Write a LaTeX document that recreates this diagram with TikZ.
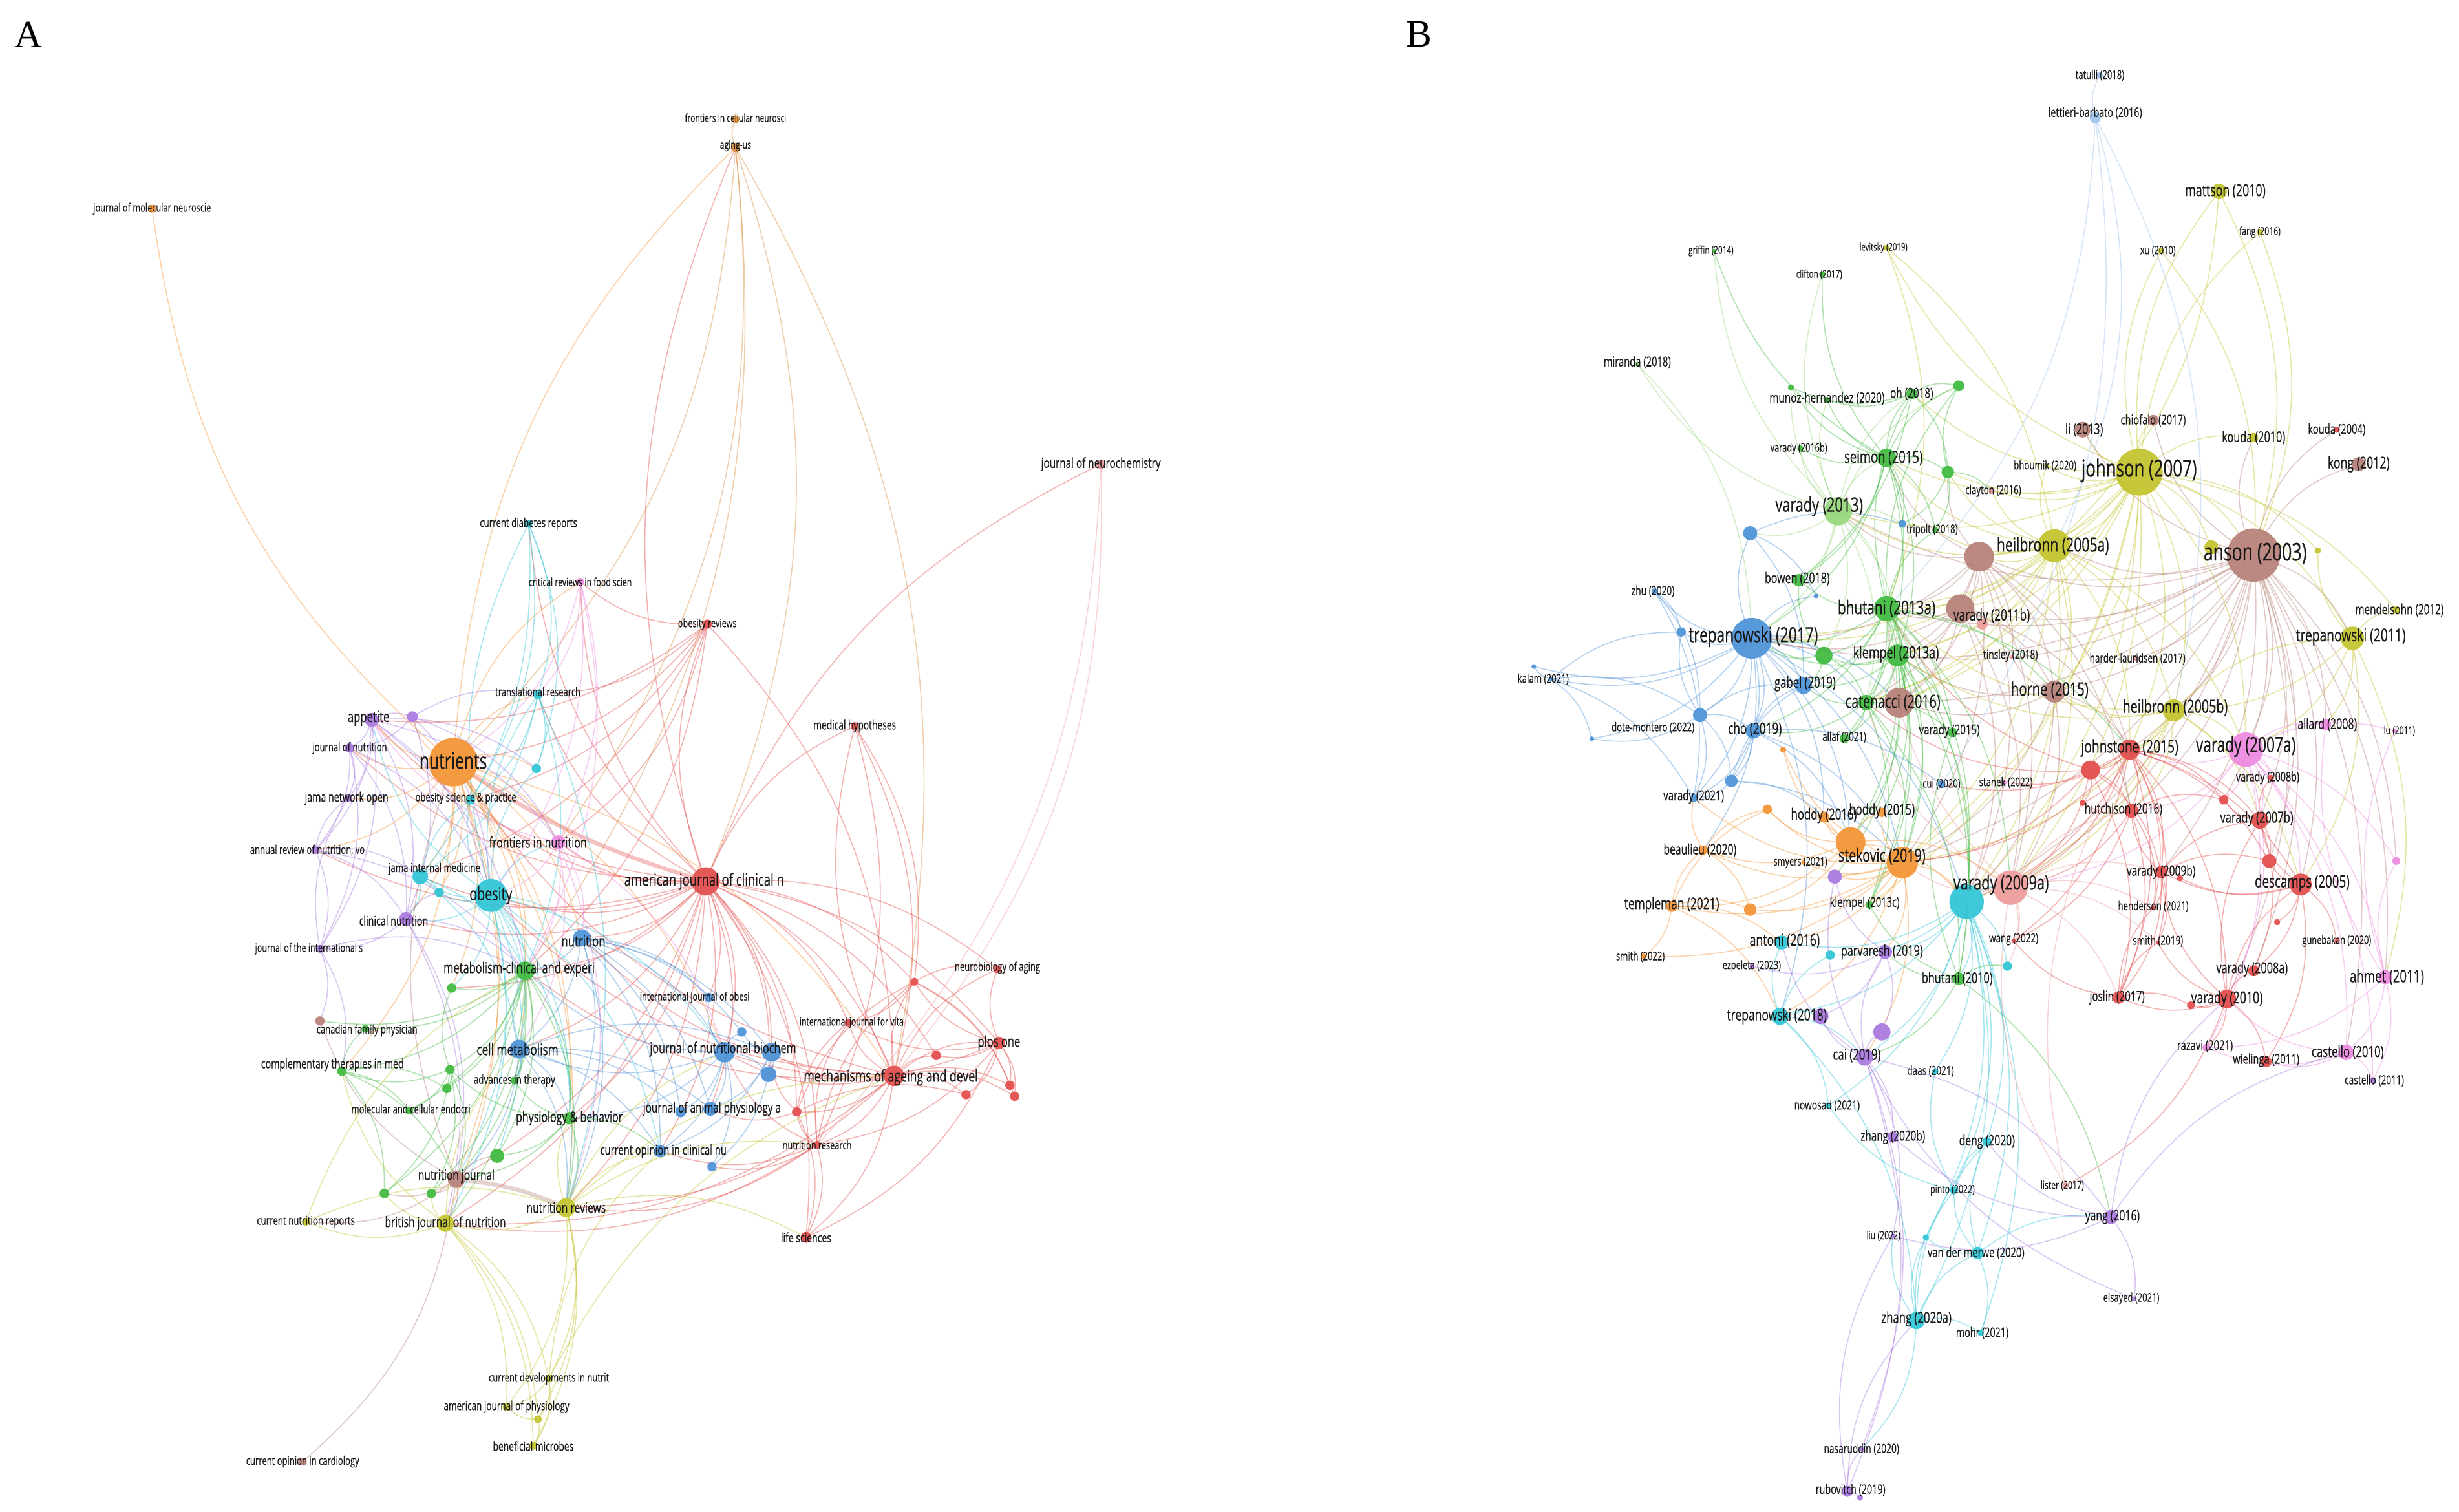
\documentclass[tikz,border=0pt]{standalone}
\usepackage{fontspec}
\setmainfont{Open Sans}[FakeStretch=0.7,FakeBold=0.35]
\newfontfamily\panelfont{Liberation Serif}
\pgfdeclarelayer{bg}
\pgfsetlayers{bg,main}
\definecolor{vred}{HTML}{E24A4A}
\definecolor{vgreen}{HTML}{3DB83D}
\definecolor{vblue}{HTML}{4A90D6}
\definecolor{volive}{HTML}{C2C22A}
\definecolor{vpurple}{HTML}{A877E0}
\definecolor{vcyan}{HTML}{2EC4D6}
\definecolor{vorange}{HTML}{F39231}
\definecolor{vdorange}{HTML}{D98A3A}
\definecolor{vbrown}{HTML}{B57F76}
\definecolor{vpink}{HTML}{EE88E0}
\definecolor{vsalmon}{HTML}{EE9A9A}
\definecolor{vlgreen}{HTML}{96D67A}
\definecolor{vlblue}{HTML}{9CC2EC}
\tikzset{
  vc/.style={circle,inner sep=0pt,outer sep=0pt,draw=none,fill opacity=0.92},
  vl/.style={inner sep=0pt,text=black!90},
  ed/.style={draw=#1,line width=0.45pt,draw opacity=0.42},
  edt/.style={draw=#1,line width=1.8pt,draw opacity=0.35},
  panel/.style={inner sep=0pt,font=\panelfont\fontsize{17}{17}\selectfont}
}
\newcommand\vnd[5]{\node[vc,fill=#5,minimum size=#4*0.02426cm] (#1) at (#2,#3) {};}
\newcommand\vlb[5]{\node[vl] (#1-t) at (#2,#3) {\fontsize{#4pt}{#4pt}\selectfont #5};}
\newcommand\hub[3]{\foreach \tg in {#3}{\draw[ed=#2] (#1) to[bend left=20] (\tg);}}
\begin{document}
\begin{tikzpicture}[x=0.02426cm,y=-0.02426cm]
\useasboundingbox (0,0) rectangle (1568,964);
\node[panel] (pA) at (18,22) {A};
\node[panel] (pB) at (905,22) {B};
% ---------------- Panel A nodes
\vnd{fcn}{469}{76}{5}{vdorange}
\vnd{agus}{469}{94}{6}{vdorange}
\vnd{jmn}{97}{133}{5}{vorange}
\vnd{jnc}{702}{296}{6}{vsalmon}
\vnd{cdr}{337}{334}{5}{vcyan}
\vnd{crf}{370}{371}{5}{vpink}
\vnd{obr}{451}{398}{6}{vred}
\vnd{trr}{343}{443}{6}{vcyan}
\vnd{mhy}{545}{463}{5}{vred}
\vnd{app}{237}{459}{9}{vpurple}
\vnd{apu1}{263}{457}{7}{vpurple}
\vnd{jnu}{223}{477}{6}{vpurple}
\vnd{nut}{289}{486}{31}{vorange}
\vnd{acy1}{342}{490}{6}{vcyan}
\vnd{jno}{222}{509}{5}{vpurple}
\vnd{osp}{300}{510}{6}{vcyan}
\vnd{fin}{356}{537}{9}{vpink}
\vnd{arn}{201}{542}{5}{vpurple}
\vnd{jim}{268}{559}{10}{vcyan}
\vnd{acy2}{280}{569}{6}{vcyan}
\vnd{obe}{313}{571}{21}{vcyan}
\vnd{ajc}{450}{562}{18}{vred}
\vnd{cln}{259}{586}{9}{vpurple}
\vnd{jis}{204}{605}{5}{vpurple}
\vnd{ntr}{371}{598}{11}{vblue}
\vnd{met}{335}{619}{12}{vgreen}
\vnd{ijo}{452}{636}{6}{vblue}
\vnd{agr1}{288}{630}{6}{vgreen}
\vnd{nba}{636}{618}{5}{vred}
\vnd{ard1}{583}{626}{5}{vred}
\vnd{ijv}{541}{652}{5}{vred}
\vnd{cfp}{204}{651}{6}{vbrown}
\vnd{agr2}{233}{656}{5}{vgreen}
\vnd{clm}{331}{669}{12}{vblue}
\vnd{abl1}{473}{658}{6}{vblue}
\vnd{jnb}{462}{671}{13}{vblue}
\vnd{abl2}{492}{671}{12}{vblue}
\vnd{abl3}{490}{685}{10}{vblue}
\vnd{plo}{637}{665}{8}{vred}
\vnd{ard2}{597}{673}{6}{vred}
\vnd{mad}{570}{686}{13}{vred}
\vnd{ard3}{644}{692}{6}{vred}
\vnd{ard4}{647}{699}{6}{vred}
\vnd{ard5}{616}{698}{6}{vred}
\vnd{ctm}{218}{683}{6}{vgreen}
\vnd{agr3}{287}{682}{6}{vgreen}
\vnd{agr4}{285}{694}{6}{vgreen}
\vnd{adt}{328}{689}{5}{vgreen}
\vnd{mce}{261}{708}{5}{vgreen}
\vnd{phb}{363}{713}{8}{vgreen}
\vnd{jap}{453}{707}{9}{vblue}
\vnd{abl4}{434}{709}{7}{vblue}
\vnd{ard6}{508}{709}{6}{vred}
\vnd{coc}{421}{734}{8}{vblue}
\vnd{abl5}{454}{744}{6}{vblue}
\vnd{nre}{521}{730}{5}{vred}
\vnd{lsc}{514}{789}{7}{vred}
\vnd{agr5}{317}{737}{9}{vgreen}
\vnd{njo}{291}{752}{11}{vbrown}
\vnd{agr6}{245}{761}{6}{vgreen}
\vnd{agr7}{275}{761}{6}{vgreen}
\vnd{nrv}{361}{770}{12}{volive}
\vnd{bjn}{284}{780}{11}{volive}
\vnd{cnr}{195}{779}{5}{volive}
\vnd{cdn}{350}{879}{5}{volive}
\vnd{ajp}{323}{897}{5}{volive}
\vnd{ayl1}{343}{905}{5}{volive}
\vnd{bmi}{340}{922}{5}{volive}
\vnd{coca}{193}{932}{5}{vbrown}
% ---------------- Panel B nodes
\vnd{tat}{1339}{48}{4}{vlblue}
\vnd{lb}{1336}{75}{7}{vlblue}
\vnd{mat}{1415}{122}{10}{volive}
\vnd{fan}{1441}{148}{4}{volive}
\vnd{gri}{1093}{160}{3}{vgreen}
\vnd{lev}{1203}{158}{4}{volive}
\vnd{xu}{1378}{160}{4}{volive}
\vnd{cli}{1162}{175}{4}{vgreen}
\vnd{mir}{1044}{232}{3}{vlgreen}
\vnd{gm1}{1142}{247}{4}{vgreen}
\vnd{mun}{1165}{255}{4}{vgreen}
\vnd{oh}{1219}{251}{7}{vgreen}
\vnd{gm2}{1249}{246}{7}{vgreen}
\vnd{li}{1328}{274}{10}{vbrown}
\vnd{chi}{1373}{268}{7}{vbrown}
\vnd{kou10}{1437}{279}{6}{volive}
\vnd{kou04}{1490}{274}{4}{vred}
\vnd{kon}{1504}{296}{9}{vbrown}
\vnd{joh}{1364}{301}{30}{volive}
\vnd{bho}{1305}{297}{3}{volive}
\vnd{cla}{1270}{313}{4}{vsalmon}
\vnd{sei}{1203}{292}{12}{vgreen}
\vnd{v16b}{1148}{286}{4}{vgreen}
\vnd{gm3}{1242}{301}{8}{vgreen}
\vnd{v13}{1172}{326}{18}{vlgreen}
\vnd{bl1}{1116}{340}{9}{vblue}
\vnd{bl2}{1213}{334}{5}{vblue}
\vnd{tri}{1234}{338}{4}{vgreen}
\vnd{br1}{1262}{355}{19}{vbrown}
\vnd{he5a}{1310}{348}{21}{volive}
\vnd{ol1}{1410}{349}{9}{volive}
\vnd{ans}{1437}{354}{34}{vbrown}
\vnd{yl1}{1478}{351}{4}{volive}
\vnd{men}{1528}{389}{5}{volive}
\vnd{tr11}{1500}{407}{15}{volive}
\vnd{zhu}{1055}{377}{4}{vblue}
\vnd{bow}{1147}{370}{8}{vgreen}
\vnd{bl3}{1158}{380}{3}{vblue}
\vnd{bh13a}{1203}{388}{16}{vgreen}
\vnd{br2}{1250}{388}{18}{vbrown}
\vnd{v11b}{1264}{398}{7}{vsalmon}
\vnd{bl4}{1072}{403}{6}{vblue}
\vnd{tr17}{1117}{407}{26}{vblue}
\vnd{gm4}{1163}{418}{11}{vgreen}
\vnd{kl13a}{1210}{418}{14}{vgreen}
\vnd{tin}{1283}{419}{3}{vsalmon}
\vnd{hl17}{1362}{420}{3}{vsalmon}
\vnd{bl5}{978}{425}{3}{vblue}
\vnd{kal}{989}{433}{3}{vblue}
\vnd{gab}{1150}{437}{11}{vblue}
\vnd{cat}{1190}{448}{10}{vgreen}
\vnd{br3}{1211}{448}{19}{vbrown}
\vnd{hor}{1310}{441}{14}{vbrown}
\vnd{he5b}{1386}{453}{14}{volive}
\vnd{bl6}{1084}{456}{9}{vblue}
\vnd{dm}{1015}{471}{3}{vblue}
\vnd{cho}{1118}{466}{10}{vblue}
\vnd{alf}{1176}{471}{6}{vgreen}
\vnd{v15}{1245}{467}{6}{vgreen}
\vnd{alr}{1483}{462}{7}{vpink}
\vnd{lu}{1527}{466}{3}{vpink}
\vnd{v07a}{1432}{478}{22}{vpink}
\vnd{jst}{1358}{478}{13}{vred}
\vnd{rd1}{1333}{491}{12}{vred}
\vnd{or2}{1137}{478}{4}{vorange}
\vnd{bl7}{1104}{498}{8}{vblue}
\vnd{cui}{1238}{500}{5}{vblue}
\vnd{sta}{1278}{499}{3}{vpink}
\vnd{v08b}{1448}{496}{4}{vred}
\vnd{v21}{1080}{509}{5}{vblue}
\vnd{rd3}{1418}{510}{6}{vred}
\vnd{rd2}{1328}{512}{4}{vred}
\vnd{or1}{1127}{516}{6}{vorange}
\vnd{hd15}{1200}{518}{6}{vorange}
\vnd{hut}{1359}{517}{9}{vred}
\vnd{hd16}{1163}{521}{7}{vorange}
\vnd{v07b}{1441}{523}{11}{vred}
\vnd{or3}{1180}{537}{19}{vorange}
\vnd{bea}{1086}{542}{6}{vorange}
\vnd{stk}{1213}{550}{20}{vorange}
\vnd{pk1}{1528}{549}{5}{vpink}
\vnd{rd4}{1447}{549}{9}{vred}
\vnd{smy}{1150}{550}{3}{vorange}
\vnd{v09b}{1378}{556}{8}{vred}
\vnd{pu1}{1170}{559}{9}{vpurple}
\vnd{rd5}{1390}{560}{4}{vred}
\vnd{des}{1467}{564}{14}{vred}
\vnd{v09a}{1282}{566}{22}{vsalmon}
\vnd{cy1}{1254}{575}{22}{vcyan}
\vnd{tem}{1066}{578}{7}{vorange}
\vnd{kl13c}{1192}{577}{5}{vgreen}
\vnd{or4}{1116}{580}{8}{vorange}
\vnd{hen}{1373}{579}{3}{vred}
\vnd{rd6}{1452}{588}{4}{vred}
\vnd{wan}{1284}{600}{3}{vred}
\vnd{smi19}{1376}{601}{3}{vred}
\vnd{gun}{1490}{600}{3}{vred}
\vnd{ant}{1136}{601}{9}{vcyan}
\vnd{par}{1202}{607}{9}{vpurple}
\vnd{cy2}{1167}{609}{6}{vcyan}
\vnd{smi22}{1048}{610}{4}{vorange}
\vnd{cy3}{1280}{616}{6}{vcyan}
\vnd{ezp}{1117}{616}{3}{vpurple}
\vnd{v08a}{1437}{619}{7}{vred}
\vnd{bh10}{1249}{624}{8}{vgreen}
\vnd{ahm}{1521}{623}{9}{vpink}
\vnd{jos}{1351}{636}{8}{vred}
\vnd{v10}{1420}{637}{12}{vred}
\vnd{rd7}{1397}{641}{5}{vred}
\vnd{tr18}{1135}{648}{11}{vcyan}
\vnd{pu2}{1161}{648}{10}{vpurple}
\vnd{pu3}{1200}{658}{11}{vpurple}
\vnd{raz}{1407}{668}{5}{vpink}
\vnd{cas10}{1496}{671}{10}{vpink}
\vnd{cai}{1189}{674}{11}{vpurple}
\vnd{wie}{1445}{677}{7}{vred}
\vnd{daa}{1234}{683}{4}{vcyan}
\vnd{cas11}{1513}{689}{4}{vpurple}
\vnd{now}{1166}{705}{4}{vcyan}
\vnd{zh20b}{1207}{725}{7}{vpurple}
\vnd{den}{1267}{728}{6}{vcyan}
\vnd{lis}{1317}{756}{4}{vsalmon}
\vnd{pin}{1246}{759}{5}{vcyan}
\vnd{yan}{1346}{776}{9}{vpurple}
\vnd{liu}{1207}{788}{3}{vpurple}
\vnd{cy4}{1228}{789}{4}{vcyan}
\vnd{vdm}{1261}{799}{8}{vcyan}
\vnd{els}{1361}{828}{3}{vpurple}
\vnd{zh20a}{1222}{842}{11}{vcyan}
\vnd{moh}{1263}{850}{4}{vcyan}
\vnd{nas}{1187}{924}{3}{vpurple}
\vnd{rub}{1178}{951}{7}{vpurple}
\vnd{pu4}{1186}{955}{4}{vpurple}
% ---------------- edges
\begin{pgfonlayer}{bg}
% Panel A
\draw[edt=vred] (ajc) to[bend left=8] (nut);
\draw[edt=vbrown] (njo) to[bend left=8] (nrv);
\hub{ajc}{vred}{obr,mhy,plo,mad,nre,lsc,ijv,ard1,ard2,nba,obe,met,ntr,clm,jnb,abl2,jap,bjn,nrv,njo,fin,cln,app,jnu,arn,trr,crf,cdr,agus,osp,coc,ard6,ijo,jim,agr1,phb,jnc,abl3}
\hub{obr}{vred}{nut,crf,fin,trr,met,app,mad,jim,osp}
\hub{mad}{vred}{plo,ard2,ard3,ard4,ard5,ard1,nba,ijv,nre,ard6,lsc,jnb,abl2,ntr,met,nrv,nut,mhy,obe,bjn}
\hub{plo}{vred}{ard1,ard3,ard4,ard5,nba,nre,jnb,lsc,ijv,ard2}
\hub{nre}{vred}{lsc,ard6,jnb,coc,ijv,ard1,nrv,bjn,abl5}
\hub{ard6}{vred}{lsc,jap,abl2,ard1,ijv,ard5}
\hub{ard1}{vred}{nba,ijv,ard3,ard4}
\hub{jnc}{vsalmon}{mad,nre}
\hub{mhy}{vred}{nre,mad,ard1}
\hub{nut}{vorange}{jmn,agus,app,apu1,jnu,jno,obe,fin,osp,jim,acy1,met,clm,njo,bjn,nrv,cln,arn,mad,ntr,trr,crf,jnb,agr1,phb,ctm,acy2}
\hub{agus}{vdorange}{fcn,nut,mad,met,ajc,fin}
\hub{obe}{vcyan}{jim,acy2,osp,acy1,trr,cdr,met,ntr,clm,njo,bjn,phb,app,cln,fin,agr1,agr5,jnb,coc,nrv}
\hub{cdr}{vcyan}{trr,jim,acy1,osp}
\hub{trr}{vcyan}{acy1,osp,jim,met,nrv}
\hub{jim}{vcyan}{acy2,osp,met,cln,clm}
\hub{crf}{vpink}{fin,nut,trr,obe,met}
\hub{fin}{vpink}{met,obe,ntr,clm,app,nrv,jnb}
\hub{app}{vpurple}{apu1,jnu,jno,arn,cln,jis,obe,met,acy1,fin}
\hub{apu1}{vpurple}{jnu,fin,obe,cln,trr}
\hub{jnu}{vpurple}{jno,arn,cln,jis,obe}
\hub{arn}{vpurple}{cln,jis,jno,jim,met}
\hub{cln}{vpurple}{jis,met,acy2,bjn,njo}
\hub{jis}{vpurple}{cfp,ctm,met,jno}
\hub{ntr}{vblue}{ijo,clm,jnb,abl2,jap,abl1,coc,met,phb,nrv,abl4}
\hub{jnb}{vblue}{abl1,abl2,abl3,jap,abl4,coc,abl5,ijo,clm,met,phb}
\hub{clm}{vblue}{met,jap,coc,abl4,phb,njo,nrv,adt,abl2}
\hub{abl2}{vblue}{abl3,jap,coc,abl5,abl1}
\hub{met}{vgreen}{agr1,agr3,agr4,adt,ctm,mce,phb,agr5,njo,agr6,agr7,bjn,nrv,cfp,agr2}
\hub{phb}{vgreen}{agr5,njo,nrv,adt,coc,agr3}
\hub{agr3}{vgreen}{agr4,ctm,mce,agr1,agr6,agr7,njo}
\hub{ctm}{vgreen}{mce,agr4,agr2,agr6,njo}
\hub{njo}{vbrown}{bjn,cfp,coca,agr6,agr7,agr5,nut,cnr}
\hub{nrv}{volive}{bjn,cdn,ajp,ayl1,bmi,lsc,jnb,coc,phb,nre,mad}
\hub{bjn}{volive}{cnr,cdn,ajp,bmi,ayl1,clm,agr6,ctm,agr7}
\hub{cnr}{volive}{nrv,met}
\hub{cdn}{volive}{ajp,bmi,mad,coc,ayl1}
\hub{ayl1}{volive}{bmi,ajp}
% Panel B
\hub{joh}{volive}{mat,xu,fan,lev,kou10,he5a,he5b,tr11,ans,v13,bh13a,tr17,cat,br3,hor,cy1,v09a,jst,v07a,br1,ol1,chi,li,bho,men,stk,kl13a,sei,gm3,oh,yl1,kl13c,cla}
\hub{ans}{vbrown}{kon,kou04,li,chi,he5a,he5b,des,v07a,v07b,br1,br2,br3,hor,tr11,cas10,ahm,alr,v09a,cy1,stk,jst,v10,v08a,rd4,rd3,pk1,hut,v13,bh13a,kl13a,tr17,kou10,ol1,v09b,hl17}
\hub{he5a}{volive}{br1,he5b,hor,br2,bh13a,v13,sei,tr17,cat,br3,cy1,v09a,jst,stk,v07a,tri,cla,bho,gm3,kl13a}
\hub{br1}{vbrown}{br2,hor,br3,bh13a,v13,sei,tr17,cat,cy1,v09a,jst,hut,stk,gm3,tin,kl13a}
\hub{br2}{vbrown}{hor,br3,kl13a,bh13a,v09a,jst,tr17,cy1,v11b}
\hub{hor}{vbrown}{br3,jst,v09a,cy1,stk,hut,tin,kl13a}
\hub{he5b}{volive}{hor,v07a,jst,v09a,cy1,des,v07b,tr11,stk,kl13a,bh13a,hut,rd1}
\hub{tr11}{volive}{men,v07a,alr,he5b,des,ahm,yl1}
\hub{v07a}{vpink}{alr,lu,pk1,ahm,cas10,cas11,raz,v07b,des,v08b,hut,jst,v09a,v10,rd3}
\hub{ahm}{vpink}{cas10,pk1,cas11,lu,alr,raz}
\hub{cas10}{vpink}{cas11,raz,wie,v10}
\hub{jst}{vred}{rd1,hut,rd2,v07b,v09b,des,v10,jos,hen,smi19,wan,v09a,rd4,rd3,cui,sta,stk,cy1}
\hub{rd1}{vred}{hut,rd2,v09b,jos,v09a,stk,bh13a,cat}
\hub{v10}{vred}{jos,rd7,v08a,wie,raz,des,v09b,smi19,v07b,lis}
\hub{des}{vred}{rd4,v07b,v08a,gun,rd6,v09b,wie,rd5}
\hub{v09b}{vred}{rd5,rd4,hen,smi19,hut,jos,v07b}
\hub{hut}{vred}{rd2,rd3,wan,hen,jos,v09a}
\hub{jos}{vred}{smi19,hen,wan,rd7}
\hub{v07b}{vred}{rd3,rd4,v08b,v08a}
\hub{v09a}{vsalmon}{hut,v09b,stk,bh13a,cat,wan,hen,cy3,smi19,jos}
\hub{v13}{vlgreen}{sei,v16b,gm1,mun,oh,gm2,bow,bh13a,kl13a,gm4,tr17,bl1,cat,mir,gri,cli,bl2}
\hub{sei}{vgreen}{oh,gm2,gm3,v16b,mun,gm1,bh13a,kl13a,cat,tri,bow,tr17,cli,gri,bl2}
\hub{bh13a}{vgreen}{kl13a,cat,gm4,v15,alf,bow,tr17,gab,br3,hor,oh,gm2,kl13c,bh10,cy1,v09a,stk,jst,cho,tri,or3}
\hub{kl13a}{vgreen}{cat,gm4,br3,alf,v15,gab,tr17,stk,cy1,bh10,kl13c,pu1,or3,hd15}
\hub{gm4}{vgreen}{tr17,gab,cat,bow}
\hub{oh}{vgreen}{gm2,mun,gm1,gm3,bow}
\hub{gm3}{vgreen}{gm2,bl2,tri,cla}
\hub{cat}{vgreen}{alf,v15,bh10,kl13c,gab,stk,cho}
\hub{bh10}{vgreen}{kl13c,par,v15,cy3,cai,yan}
\hub{tr17}{vblue}{bl4,zhu,kal,bl5,bl6,dm,cho,gab,v21,bl7,bl1,bl3,cat,br3,stk,cy1,or3,hd16,gm4,tr18,bea}
\hub{kal}{vblue}{bl6,v21,bl4,dm,bl5}
\hub{zhu}{vblue}{bl6,v21,bl4}
\hub{bl6}{vblue}{cho,v21,gab,bl7,bl4,dm}
\hub{cho}{vblue}{gab,v21,bl7,stk,or3,cui}
\hub{bl7}{vblue}{v21,gab,stk,hd16}
\hub{bl1}{vblue}{bl2,gab,bl3}
\hub{lb}{vlblue}{tat,bh13a,he5b,cui,he5a}
\hub{stk}{vorange}{or3,hd16,hd15,or1,bea,tem,or4,smy,smi22,or2,cy1,ant,par,pu1,kl13c,tr18,cai,v21}
\hub{or3}{vorange}{hd16,hd15,or1,bea,tem,or4,cy1,v09a,or2}
\hub{tem}{vorange}{bea,smi22,or4,or1,tr18,ant}
\hub{bea}{vorange}{or1,or4,v21}
\hub{cy1}{vcyan}{v09a,ant,cy2,tr18,daa,den,pin,vdm,zh20a,cy3,now,moh,cy4,bh10,par,cai}
\hub{tr18}{vcyan}{ant,cy2,pu2,cai,now,zh20a}
\hub{zh20a}{vcyan}{vdm,pin,den,cy4,moh,nas,liu}
\hub{vdm}{vcyan}{pin,den,yan,moh,cy4}
\hub{pin}{vcyan}{den,daa,now}
\hub{cai}{vpurple}{pu2,pu3,par,zh20b,yan,rub,nas,liu,pu1,ant}
\hub{yan}{vpurple}{zh20b,els,liu,den,v10,cas10}
\hub{rub}{vpurple}{nas,pu4,zh20a,liu}
\hub{par}{vpurple}{pu1,pu3,pu2,ezp}
\hub{mir}{vlgreen}{tr17}
\hub{lev}{volive}{he5a,bh13a}
\hub{xu}{volive}{ans}
\hub{fan}{volive}{ans}
\hub{mat}{volive}{ans,he5a}
\hub{lis}{vsalmon}{jst,v09a}
\hub{els}{vpurple}{cai}
\end{pgfonlayer}
% ---------------- Panel A labels
\vlb{fcn}{469}{75}{4.9}{frontiers in cellular neurosci}
\vlb{agus}{469}{93}{5.0}{aging-us}
\vlb{jmn}{97}{133}{5.2}{journal of molecular neuroscie}
\vlb{jnc}{702}{296}{6.2}{journal of neurochemistry}
\vlb{cdr}{337}{334}{5.4}{current diabetes reports}
\vlb{crf}{370}{371}{5.0}{critical reviews in food scien}
\vlb{obr}{451}{398}{5.2}{obesity reviews}
\vlb{trr}{343}{441}{5.3}{translational research}
\vlb{mhy}{545}{463}{5.6}{medical hypotheses}
\vlb{app}{235}{458}{6.8}{appetite}
\vlb{jnu}{223}{477}{5.3}{journal of nutrition}
\vlb{nut}{289}{485}{10}{nutrients}
\vlb{jno}{221}{509}{5.8}{jama network open}
\vlb{osp}{297}{509}{5.3}{obesity science \& practice}
\vlb{fin}{343}{537}{6.5}{frontiers in nutrition}
\vlb{arn}{196}{542}{5.3}{annual review of nutrition, vo}
\vlb{jim}{277}{554}{5.4}{jama internal medicine}
\vlb{obe}{313}{571}{8}{obesity}
\vlb{ajc}{449}{562}{7.5}{american journal of clinical n}
\vlb{cln}{251}{587}{5.8}{clinical nutrition}
\vlb{jis}{197}{605}{5.1}{journal of the international s}
\vlb{ntr}{372}{600}{6.8}{nutrition}
\vlb{met}{331}{618}{6.7}{metabolism-clinical and experi}
\vlb{ijo}{443}{636}{5.1}{international journal of obesi}
\vlb{nba}{636}{617}{5.3}{neurobiology of aging}
\vlb{ijv}{543}{652}{5.0}{international journal for vita}
\vlb{cfp}{234}{657}{5.3}{canadian family physician}
\vlb{clm}{330}{669}{7}{cell metabolism}
\vlb{jnb}{461}{669}{6.6}{journal of nutritional biochem}
\vlb{plo}{637}{665}{6.7}{plos one}
\vlb{mad}{568}{687}{7.2}{mechanisms of ageing and devel}
\vlb{ctm}{212}{679}{5.8}{complementary therapies in med}
\vlb{adt}{328}{689}{5.5}{advances in therapy}
\vlb{mce}{262}{707}{5.3}{molecular and cellular endocri}
\vlb{phb}{363}{713}{6.5}{physiology \& behavior}
\vlb{jap}{454}{707}{6.2}{journal of animal physiology a}
\vlb{coc}{423}{734}{6.0}{current opinion in clinical nu}
\vlb{nre}{521}{730}{5.2}{nutrition research}
\vlb{lsc}{514}{789}{5.7}{life sciences}
\vlb{njo}{291}{750}{6.3}{nutrition journal}
\vlb{nrv}{361}{770}{6.4}{nutrition reviews}
\vlb{bjn}{284}{780}{6.3}{british journal of nutrition}
\vlb{cnr}{195}{779}{5.4}{current nutrition reports}
\vlb{cdn}{350}{879}{5.3}{current developments in nutrit}
\vlb{ajp}{323}{897}{5.5}{american journal of physiology}
\vlb{bmi}{340}{922}{5.6}{beneficial microbes}
\vlb{coca}{193}{932}{5.3}{current opinion in cardiology}
% ---------------- Panel B labels
\vlb{tat}{1339}{48}{5.3}{tatulli (2018)}
\vlb{lb}{1336}{72}{5.8}{lettieri-barbato (2016)}
\vlb{mat}{1419}{122}{7.2}{mattson (2010)}
\vlb{fan}{1441}{148}{5.0}{fang (2016)}
\vlb{gri}{1091}{160}{4.8}{griffin (2014)}
\vlb{lev}{1201}{158}{4.6}{levitsky (2019)}
\vlb{xu}{1376}{160}{5.2}{xu (2010)}
\vlb{cli}{1160}{175}{4.8}{clifton (2017)}
\vlb{mir}{1044}{231}{6.0}{miranda (2018)}
\vlb{mun}{1165}{254}{6.2}{munoz-hernandez (2020)}
\vlb{oh}{1219}{251}{6.2}{oh (2018)}
\vlb{v16b}{1147}{286}{5.2}{varady (2016b)}
\vlb{sei}{1201}{292}{7.5}{seimon (2015)}
\vlb{bho}{1304}{297}{5.4}{bhoumik (2020)}
\vlb{cla}{1271}{313}{5.4}{clayton (2016)}
\vlb{li}{1329}{274}{6.5}{li (2013)}
\vlb{chi}{1373}{268}{6.0}{chiofalo (2017)}
\vlb{kou10}{1437}{279}{6.6}{kouda (2010)}
\vlb{kou04}{1490}{274}{6.0}{kouda (2004)}
\vlb{kon}{1504}{296}{7.2}{kong (2012)}
\vlb{joh}{1364}{300}{10.5}{johnson (2007)}
\vlb{v13}{1160}{323}{8.8}{varady (2013)}
\vlb{tri}{1232}{338}{5.4}{tripolt (2018)}
\vlb{he5a}{1309}{348}{8.6}{heilbronn (2005a)}
\vlb{ans}{1438}{353}{10.8}{anson (2003)}
\vlb{men}{1530}{389}{6.2}{mendelsohn (2012)}
\vlb{tr11}{1499}{406}{7.8}{trepanowski (2011)}
\vlb{zhu}{1054}{377}{5.6}{zhu (2020)}
\vlb{bow}{1146}{369}{6.5}{bowen (2018)}
\vlb{bh13a}{1203}{388}{8.4}{bhutani (2013a)}
\vlb{v11b}{1270}{393}{7.0}{varady (2011b)}
\vlb{tr17}{1118}{406}{9.2}{trepanowski (2017)}
\vlb{kl13a}{1209}{417}{7.3}{klempel (2013a)}
\vlb{tin}{1282}{418}{5.6}{tinsley (2018)}
\vlb{hl17}{1363}{420}{5.5}{harder-lauridsen (2017)}
\vlb{kal}{984}{433}{5.4}{kalam (2021)}
\vlb{gab}{1151}{436}{6.8}{gabel (2019)}
\vlb{cat}{1207}{448}{8.0}{catenacci (2016)}
\vlb{hor}{1307}{440}{8.2}{horne (2015)}
\vlb{he5b}{1387}{451}{8.0}{heilbronn (2005b)}
\vlb{dm}{1054}{464}{5.4}{dote-montero (2022)}
\vlb{cho}{1119}{465}{7.0}{cho (2019)}
\vlb{alf}{1176}{470}{5.4}{allaf (2021)}
\vlb{v15}{1243}{466}{6.1}{varady (2015)}
\vlb{v07a}{1432}{476}{9.2}{varady (2007a)}
\vlb{alr}{1484}{462}{6.5}{allard (2008)}
\vlb{lu}{1530}{466}{4.9}{lu (2011)}
\vlb{jst}{1358}{477}{7.8}{johnstone (2015)}
\vlb{v08b}{1446}{496}{5.8}{varady (2008b)}
\vlb{cui}{1238}{500}{5.3}{cui (2020)}
\vlb{sta}{1279}{499}{5.4}{stanek (2022)}
\vlb{v21}{1080}{508}{6.1}{varady (2021)}
\vlb{hd16}{1163}{520}{6.8}{hoddy (2016)}
\vlb{hd15}{1200}{517}{6.8}{hoddy (2015)}
\vlb{hut}{1354}{516}{6.3}{hutchison (2016)}
\vlb{v07b}{1439}{522}{6.7}{varady (2007b)}
\vlb{bea}{1084}{542}{6.4}{beaulieu (2020)}
\vlb{stk}{1200}{546}{8.0}{stekovic (2019)}
\vlb{smy}{1148}{550}{5.2}{smyers (2021)}
\vlb{v09b}{1378}{556}{6.3}{varady (2009b)}
\vlb{des}{1468}{563}{7.6}{descamps (2005)}
\vlb{v09a}{1276}{564}{8.8}{varady (2009a)}
\vlb{tem}{1066}{577}{7.0}{templeman (2021)}
\vlb{kl13c}{1189}{576}{6.0}{klempel (2013c)}
\vlb{hen}{1373}{578}{5.4}{henderson (2021)}
\vlb{smi22}{1046}{610}{5.3}{smith (2022)}
\vlb{ant}{1138}{600}{7.2}{antoni (2016)}
\vlb{par}{1200}{607}{6.6}{parvaresh (2019)}
\vlb{ezp}{1117}{616}{5.2}{ezpeleta (2023)}
\vlb{wan}{1284}{599}{5.5}{wang (2022)}
\vlb{smi19}{1376}{600}{5.5}{smith (2019)}
\vlb{gun}{1490}{600}{5.2}{gunebakan (2020)}
\vlb{v08a}{1436}{618}{6.6}{varady (2008a)}
\vlb{bh10}{1248}{624}{6.6}{bhutani (2010)}
\vlb{ahm}{1522}{623}{7.6}{ahmet (2011)}
\vlb{jos}{1350}{636}{6.2}{joslin (2017)}
\vlb{v10}{1420}{637}{7.2}{varady (2010)}
\vlb{tr18}{1133}{648}{7.1}{trepanowski (2018)}
\vlb{cai}{1184}{673}{6.8}{cai (2019)}
\vlb{raz}{1406}{667}{6.0}{razavi (2021)}
\vlb{wie}{1445}{676}{6.0}{wielinga (2011)}
\vlb{cas10}{1497}{671}{6.8}{castello (2010)}
\vlb{cas11}{1514}{689}{5.6}{castello (2011)}
\vlb{daa}{1231}{683}{5.5}{daas (2021)}
\vlb{now}{1165}{705}{5.6}{nowosad (2021)}
\vlb{zh20b}{1207}{725}{6.2}{zhang (2020b)}
\vlb{den}{1267}{728}{6.4}{deng (2020)}
\vlb{pin}{1245}{759}{5.0}{pinto (2022)}
\vlb{lis}{1315}{756}{5.0}{lister (2017)}
\vlb{yan}{1347}{776}{6.4}{yang (2016)}
\vlb{liu}{1201}{788}{5.0}{liu (2022)}
\vlb{vdm}{1260}{799}{6.0}{van der merwe (2020)}
\vlb{els}{1359}{828}{5.3}{elsayed (2021)}
\vlb{zh20a}{1222}{841}{6.8}{zhang (2020a)}
\vlb{moh}{1264}{850}{5.8}{mohr (2021)}
\vlb{nas}{1187}{924}{5.6}{nasaruddin (2020)}
\vlb{rub}{1180}{950}{5.8}{rubovitch (2019)}
\end{tikzpicture}
\end{document}
